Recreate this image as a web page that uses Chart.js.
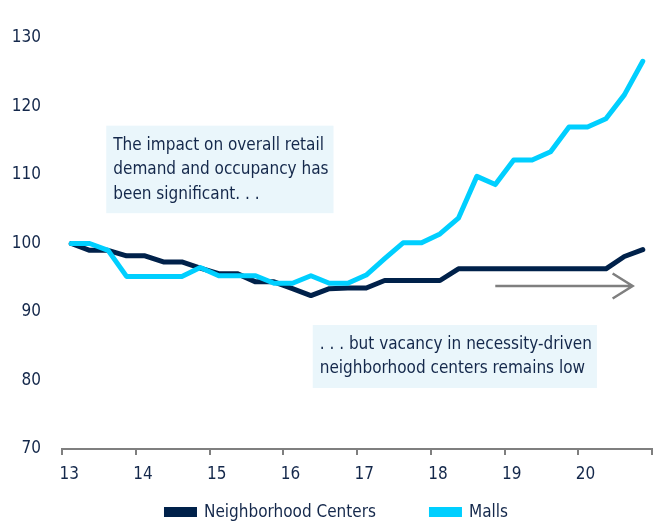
<!DOCTYPE html>
<html>
<head>
<meta charset="utf-8">
<script src="https://cdn.jsdelivr.net/npm/chart.js@4.4.1/dist/chart.umd.min.js"></script>
<style>
  html, body { margin: 0; padding: 0; background: #fff; }
  canvas { display: block; }
</style>
</head>
<body>
<canvas id="myChart" width="658" height="523"></canvas>
<script>
// quarterly index, 1Q13 = 100
const years = ['13', '14', '15', '16', '17', '18', '19', '20'];
const quarters = years.flatMap(y => ['1Q', '2Q', '3Q', '4Q'].map(q => q + y));

const neighborhood = [100, 99.0, 99.0, 98.2, 98.2, 97.3, 97.3, 96.4,
  95.6, 95.6, 94.4, 94.4, 93.4, 92.4, 93.4, 93.5,
  93.5, 94.6, 94.6, 94.6, 94.6, 96.3, 96.3, 96.3,
  96.3, 96.3, 96.3, 96.3, 96.3, 96.3, 98.1, 99.1];
const malls = [100, 100, 99.0, 95.2, 95.2, 95.2, 95.2, 96.5,
  95.3, 95.3, 95.3, 94.2, 94.2, 95.3, 94.2, 94.2,
  95.4, 97.8, 100.1, 100.1, 101.4, 103.7, 109.8, 108.6,
  112.2, 112.2, 113.4, 117.0, 117.0, 118.2, 121.7, 126.6];
const yTicks = [70, 80, 90, 100, 110, 120, 130];

const FONT = '"Liberation Sans Narrow", "DejaVu Sans Condensed", sans-serif';
const TEXT = '#14284b';
const NAVY = '#00214a';
const CYAN = '#00cfff';
const GREY = '#7f7f7f';

const notes = [
  { x: 1.9, y: 117.2, width: 223,
    lines: ['The impact on overall retail', 'demand and occupancy has', 'been significant. . .'] },
  { x: 13.1, y: 88.1, width: 280,
    lines: ['. . . but vacancy in necessity-driven', 'neighborhood centers remains low'] }
];
const arrow = { from: 23.0, to: 30.45, y: 93.8 };

const notesPlugin = {
  id: 'notes',
  beforeDatasetsDraw(chart) {
    const { ctx, scales: { x, y } } = chart;
    ctx.save();
    ctx.font = '17px ' + FONT;
    ctx.textBaseline = 'middle';
    notes.forEach(n => {
      const left = x.getPixelForValue(n.x);
      const top = y.getPixelForValue(n.y);
      const textW = Math.max(...n.lines.map(l => ctx.measureText(l).width));
      const w = Math.max(n.width, textW + 12);
      const h = n.lines.length * 24.5 + 14;
      ctx.fillStyle = '#eaf6fb';
      ctx.fillRect(left, top, w, h);
      ctx.fillStyle = TEXT;
      n.lines.forEach((l, i) => ctx.fillText(l, left + 7, top + 19.5 + i * 24.5));
    });
    ctx.restore();
  },
  afterDatasetsDraw(chart) {
    const { ctx, scales: { x, y } } = chart;
    const x0 = x.getPixelForValue(arrow.from);
    const x1 = x.getPixelForValue(arrow.to);
    const yy = y.getPixelForValue(arrow.y);
    ctx.save();
    ctx.strokeStyle = GREY;
    ctx.lineWidth = 2.5;
    ctx.beginPath();
    ctx.moveTo(x0, yy);
    ctx.lineTo(x1, yy);
    ctx.moveTo(x1 - 20, yy - 12.5);
    ctx.lineTo(x1, yy);
    ctx.lineTo(x1 - 20, yy + 12.5);
    ctx.stroke();
    ctx.restore();
  }
};

const legendPlugin = {
  id: 'bottomLegend',
  afterDraw(chart) {
    const ctx = chart.ctx;
    const sets = chart.data.datasets;
    ctx.save();
    ctx.font = '17px ' + FONT;
    ctx.textBaseline = 'middle';
    const widths = sets.map(d => 33 + 7 + ctx.measureText(d.label).width);
    const total = widths.reduce((a, b) => a + b, 0) + 53 * (sets.length - 1);
    let cx = chart.width / 2 + 7 - total / 2;
    const cy = chart.height - 11;
    sets.forEach((d, i) => {
      ctx.fillStyle = d.borderColor;
      ctx.fillRect(cx, cy - 5, 33, 10);
      ctx.fillStyle = TEXT;
      ctx.fillText(d.label, cx + 40, cy + 1);
      cx += widths[i] + 53;
    });
    ctx.restore();
  }
};

const ctx = document.getElementById('myChart');

new Chart(ctx, {
  type: 'line',
  data: {
    labels: quarters,
    datasets: [{
      label: 'Neighborhood Centers',
      data: neighborhood,
      borderColor: NAVY,
      backgroundColor: NAVY,
      borderWidth: 5,
      pointRadius: 0,
      borderCapStyle: 'round',
      borderJoinStyle: 'round',
      order: 1
    }, {
      label: 'Malls',
      data: malls,
      borderColor: CYAN,
      backgroundColor: CYAN,
      borderWidth: 5,
      pointRadius: 0,
      borderCapStyle: 'round',
      borderJoinStyle: 'round',
      order: 0
    }]
  },
  options: {
    responsive: false,
    animation: false,
    devicePixelRatio: 1,
    layout: { padding: { top: 38, right: 6, bottom: 44, left: 0 } },
    plugins: {
      legend: { display: false },
      tooltip: { enabled: false }
    },
    scales: {
      x: {
        type: 'category',
        offset: true,
        afterFit: s => { s.height = 30; },
        border: { display: true, color: GREY, width: 2 },
        grid: {
          offset: true,
          drawOnChartArea: false,
          drawTicks: true,
          tickLength: 6,
          lineWidth: 2,
          color: c => (c.type !== 'tick' || c.index % 4 === 0) ? GREY : 'rgba(0,0,0,0)'
        },
        ticks: {
          autoSkip: false,
          maxRotation: 0,
          padding: 9,
          labelOffset: -2,
          color: TEXT,
          font: { family: FONT, size: 17 },
          callback: (v, i) => i % 4 === 0 ? years[i / 4] : ''
        }
      },
      y: {
        min: yTicks[0],
        max: yTicks[yTicks.length - 1],
        afterFit: s => { s.width = 62; },
        border: { display: false },
        grid: { display: false, drawTicks: false },
        afterBuildTicks: s => { s.ticks = yTicks.map(v => ({ value: v })); },
        ticks: {
          padding: 21,
          color: TEXT,
          font: { family: FONT, size: 17 }
        }
      }
    }
  },
  plugins: [notesPlugin, legendPlugin]
});
</script>
</body>
</html>
